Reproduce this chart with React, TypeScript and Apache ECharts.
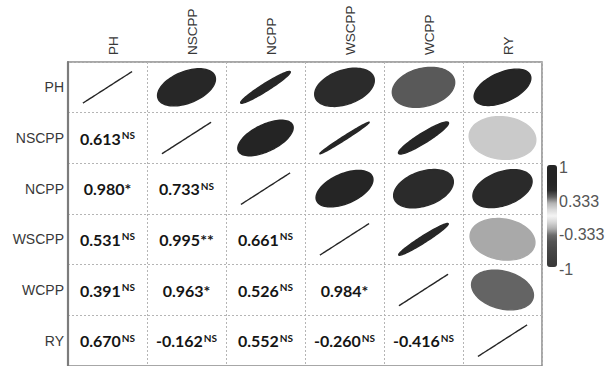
import React, { useEffect, useRef } from 'react';
import * as echarts from 'echarts';

// ---- data ----
const variables = ['PH', 'NSCPP', 'NCPP', 'WSCPP', 'WCPP', 'RY'];
// lower-triangle correlation coefficients, one array per row
const corrPH: number[] = [];
const corrNSCPP = [0.613];
const corrNCPP = [0.98, 0.733];
const corrWSCPP = [0.531, 0.995, 0.661];
const corrWCPP = [0.391, 0.963, 0.526, 0.984];
const corrRY = [0.67, -0.162, 0.552, -0.26, -0.416];
// significance marks, same layout
const sigPH: string[] = [];
const sigNSCPP = ['NS'];
const sigNCPP = ['*', 'NS'];
const sigWSCPP = ['NS', '**', 'NS'];
const sigWCPP = ['NS', '*', 'NS', '*'];
const sigRY = ['NS', 'NS', 'NS', 'NS', 'NS'];
// colour-bar ticks
const colorbarTicks = [1, 0.333, -0.333, -1];
const colorbarTickLabels = ['1', '0.333', '-0.333', '-1'];

// ---- styles ----
const palette = [
  '#383838', '#3c3c3c', '#424242', '#4a4a4a', '#545454', '#6c6c6c', '#aeaeae', '#d6d6d6',
  '#f4f4f4',
  '#dadada', '#b4b4b4', '#606060', '#2c2c2c', '#262626', '#242424', '#242424', '#262626',
];

const lower = [corrPH, corrNSCPP, corrNCPP, corrWSCPP, corrWCPP, corrRY];
const sigs = [sigPH, sigNSCPP, sigNCPP, sigWSCPP, sigWCPP, sigRY];

function corr(i: number, j: number): number {
  if (i === j) return 1;
  return i > j ? lower[i][j] : lower[j][i];
}

const ellipseData: number[][] = [];
const textData: number[][] = [];
const textCells: { val: string; sig: string }[] = [];
for (let i = 0; i < variables.length; i++) {
  for (let j = 0; j < variables.length; j++) {
    if (j >= i) ellipseData.push([j, i, corr(i, j)]);
    else {
      textData.push([j, i, corr(i, j)]);
      textCells.push({ val: corr(i, j).toFixed(3), sig: sigs[i][j] });
    }
  }
}

const CB_LEFT = 547;
const CB_TOP = 165;
const CB_W = 10;
const CB_H = 102;

const LABEL_FONT = '"Liberation Sans", Arial, sans-serif';
const VALUE_FONT = 'Lato, "Open Sans", sans-serif';

export default function App() {
  const ref = useRef<HTMLDivElement>(null);
  useEffect(() => {
    if (!ref.current) return;
    const chart = echarts.init(ref.current, undefined, { renderer: 'svg' });
    const option: any = {
      animation: false,
      backgroundColor: '#ffffff',
      grid: {
        left: 68,
        top: 62,
        width: 474,
        height: 307,
        show: true,
        borderColor: '#8a8a8a',
        borderWidth: 1.5,
        backgroundColor: 'transparent',
      },
      xAxis: {
        type: 'category',
        position: 'top',
        data: variables,
        axisLine: { show: false },
        axisTick: { show: false },
        axisLabel: {
          interval: 0,
          rotate: -90,
          margin: 7,
          formatter: '{a|{value}}',
          padding: [12, 0, 0, 0],
          rich: {
            a: { color: '#383838', fontSize: 13.5, fontFamily: LABEL_FONT },
          },
        },
        splitLine: { show: true, interval: 0, lineStyle: { color: '#b5b5b5', type: [2, 2], width: 1 } },
      },
      yAxis: {
        type: 'category',
        inverse: true,
        data: variables,
        axisLine: { show: true, lineStyle: { color: '#7c7c7c', width: 2.2 } },
        axisTick: { show: false },
        axisLabel: {
          interval: 0,
          margin: 4,
          color: '#383838',
          fontSize: 14,
          fontFamily: LABEL_FONT,
        },
        splitLine: { show: true, interval: 0, lineStyle: { color: '#b5b5b5', type: [2, 2], width: 1 } },
      },
      visualMap: {
        type: 'continuous',
        min: -1,
        max: 1,
        dimension: 2,
        seriesIndex: 0,
        show: true,
        calculable: false,
        hoverLink: false,
        orient: 'vertical',
        left: CB_LEFT,
        top: CB_TOP,
        itemWidth: CB_W,
        itemHeight: CB_H,
        padding: 0,
        inRange: { color: palette },
      },
      graphic: colorbarTicks.map((v, k) => ({
        type: 'text',
        x: CB_LEFT + CB_W + 2,
        y: CB_TOP + ((1 - v) / 2) * CB_H + 2,
        style: {
          text: colorbarTickLabels[k],
          fill: '#555555',
          font: '16px "Liberation Sans", Arial, sans-serif',
          align: 'left',
          verticalAlign: 'middle',
        },
      })),
      series: [
        {
          type: 'custom',
          coordinateSystem: 'cartesian2d',
          data: ellipseData,
          encode: { x: 0, y: 1 },
          renderItem: (params: any, api: any) => {
            const col = api.value(0);
            const row = api.value(1);
            const r = api.value(2);
            const c = api.coord([col, row]);
            const s = api.size([1, 1]);
            const hw = s[0] / 2;
            const hh = s[1] / 2;
            const A = 0.88;
            const B = A * Math.sqrt(Math.max(0, 1 - Math.abs(r)));
            const sgn = r >= 0 ? 1 : -1;
            const pts: number[][] = [];
            const N = 90;
            for (let k = 0; k < N; k++) {
              const t = (k / N) * Math.PI * 2;
              const a = A * Math.cos(t);
              const b = B * Math.sin(t);
              const px = (a - sgn * b) / Math.SQRT2;
              const py = (sgn * a + b) / Math.SQRT2;
              pts.push([c[0] + px * hw, c[1] - py * hh]);
            }
            const color = api.visual('color');
            return {
              type: 'polygon',
              shape: { points: pts },
              style: { fill: color, stroke: color, lineWidth: 1.4 },
            };
          },
        },
        {
          type: 'custom',
          coordinateSystem: 'cartesian2d',
          data: textData,
          encode: { x: 0, y: 1 },
          renderItem: (params: any, api: any) => {
            const c = api.coord([api.value(0), api.value(1)]);
            const cell = textCells[params.dataIndex];
            const isNS = cell.sig === 'NS';
            const text = isNS ? `{v|${cell.val}}{s|NS}` : `{v|${cell.val}${cell.sig}}`;
            return {
              type: 'text',
              x: c[0],
              y: c[1],
              style: {
                text,
                align: 'center',
                verticalAlign: 'middle',
                fill: '#151515',
                rich: {
                  v: {
                    fontSize: 16,
                    fontWeight: 'bold',
                    fontFamily: VALUE_FONT,
                    fill: '#151515',
                  },
                  s: {
                    fontSize: 10,
                    fontWeight: 'bold',
                    fontFamily: VALUE_FONT,
                    fill: '#151515',
                    verticalAlign: 'top',
                    padding: [0, 0, 0, 1],
                  },
                },
              },
            };
          },
        },
      ],
    };
    chart.setOption(option);
    return () => chart.dispose();
  }, []);
  return (
    <div
      ref={ref}
      style={{ position: 'absolute', left: 0, top: 0, width: 605, height: 366, overflow: 'hidden' }}
    />
  );
}
